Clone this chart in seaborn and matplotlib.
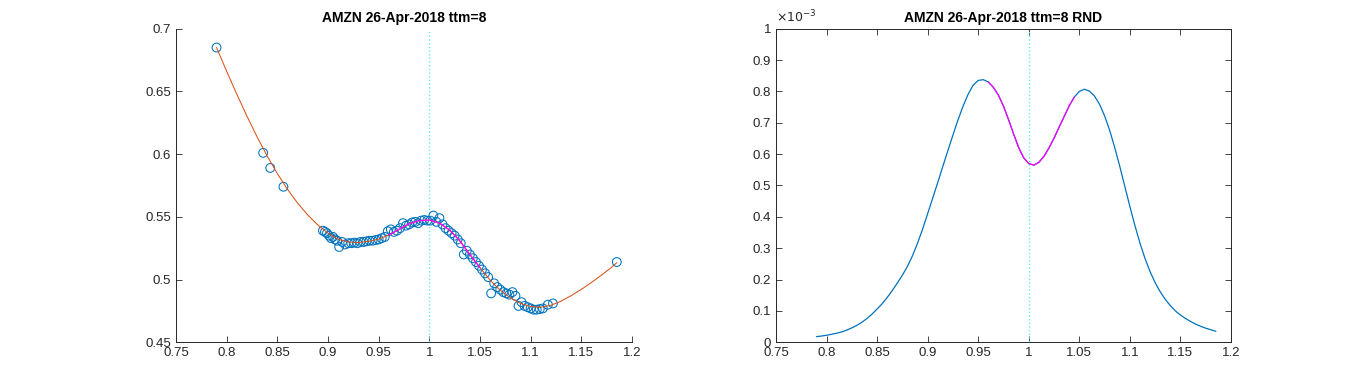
import matplotlib
matplotlib.use("Agg")
import matplotlib.pyplot as plt
from matplotlib.ticker import FuncFormatter
import seaborn as sns
import numpy as np

# implied vol smile: observed points (moneyness, iv)
iv_x = [0.790, 0.836, 0.843, 0.856,
        0.895, 0.897, 0.899, 0.901, 0.903, 0.905, 0.907, 0.909, 0.911, 0.914,
        0.917, 0.920, 0.923, 0.926, 0.929, 0.932, 0.935, 0.938, 0.941, 0.944,
        0.947, 0.950, 0.953, 0.956, 0.959, 0.962, 0.965, 0.968, 0.971, 0.974,
        0.977, 0.980, 0.983, 0.986, 0.989, 0.992, 0.995, 0.998, 1.001, 1.004,
        1.007, 1.010, 1.013, 1.016, 1.019, 1.022, 1.025, 1.028, 1.031, 1.034,
        1.037, 1.040, 1.043, 1.046, 1.049, 1.052, 1.055, 1.058, 1.061, 1.064,
        1.067, 1.070, 1.073, 1.076, 1.079, 1.082, 1.085, 1.088, 1.091, 1.094,
        1.097, 1.100, 1.103, 1.106, 1.109, 1.112, 1.117, 1.122,
        1.185]
iv_y = [0.685, 0.601, 0.589, 0.574,
        0.539, 0.538, 0.537, 0.535, 0.533, 0.534, 0.532, 0.531, 0.526, 0.530,
        0.528, 0.529, 0.529, 0.5295, 0.529, 0.530, 0.530, 0.5305, 0.531, 0.531,
        0.5315, 0.532, 0.533, 0.534, 0.5385, 0.540, 0.538, 0.539, 0.541, 0.545,
        0.543, 0.544, 0.5455, 0.546, 0.545, 0.547, 0.5475, 0.547, 0.547, 0.551,
        0.546, 0.549, 0.544, 0.541, 0.539, 0.537, 0.535, 0.532, 0.529, 0.520,
        0.523, 0.520, 0.517, 0.514, 0.511, 0.508, 0.505, 0.502, 0.489, 0.497,
        0.494, 0.492, 0.490, 0.489, 0.488, 0.490, 0.487, 0.479, 0.482, 0.479,
        0.478, 0.477, 0.476, 0.476, 0.4765, 0.477, 0.480, 0.481,
        0.514]

# fitted smile
fit_x = [0.790, 0.800, 0.810, 0.820, 0.830, 0.840, 0.850, 0.860, 0.870, 0.880,
         0.890, 0.900, 0.910, 0.920, 0.930, 0.940, 0.950, 0.960, 0.970, 0.980,
         0.990, 1.000, 1.010, 1.020, 1.030, 1.040, 1.050, 1.060, 1.070, 1.080,
         1.090, 1.100, 1.110, 1.120, 1.130, 1.140, 1.150, 1.160, 1.170, 1.180, 1.185]
fit_y = [0.6850, 0.6660, 0.6478, 0.6303, 0.6138, 0.5985, 0.5845, 0.5720, 0.5610, 0.5515,
         0.5435, 0.5370, 0.5322, 0.5300, 0.5295, 0.5305, 0.5322, 0.5355, 0.5400, 0.5445,
         0.5470, 0.5475, 0.5450, 0.5395, 0.5310, 0.5200, 0.5095, 0.4995, 0.4915, 0.4855,
         0.4810, 0.4785, 0.4780, 0.4795, 0.4828, 0.4872, 0.4922, 0.4977, 0.5036, 0.5099, 0.5135]

# risk neutral density (x1e-3)
rnd_x = [0.790, 0.795, 0.800, 0.805, 0.810, 0.815, 0.820, 0.825, 0.830, 0.835,
         0.840, 0.845, 0.850, 0.855, 0.860, 0.865, 0.870, 0.875, 0.880, 0.885,
         0.890, 0.895, 0.900, 0.905, 0.910, 0.915, 0.920, 0.925, 0.930, 0.935,
         0.940, 0.945, 0.950, 0.955, 0.960, 0.965, 0.970, 0.975, 0.980, 0.985,
         0.990, 0.995, 1.000, 1.005, 1.010, 1.015, 1.020, 1.025, 1.030, 1.035,
         1.040, 1.045, 1.050, 1.055, 1.060, 1.065, 1.070, 1.075, 1.080, 1.085,
         1.090, 1.095, 1.100, 1.105, 1.110, 1.115, 1.120, 1.125, 1.130, 1.135,
         1.140, 1.145, 1.150, 1.155, 1.160, 1.165, 1.170, 1.175, 1.180, 1.185]
rnd_e3 = [0.018, 0.020, 0.0225, 0.0255, 0.029, 0.033, 0.039, 0.046, 0.054, 0.064,
          0.076, 0.090, 0.106, 0.123, 0.143, 0.165, 0.189, 0.214, 0.242, 0.276,
          0.316, 0.361, 0.410, 0.460, 0.510, 0.561, 0.611, 0.661, 0.709, 0.753,
          0.791, 0.820, 0.835, 0.8375, 0.830, 0.813, 0.788, 0.753, 0.710, 0.664,
          0.621, 0.588, 0.570, 0.565, 0.574, 0.593, 0.620, 0.651, 0.686, 0.720,
          0.754, 0.782, 0.800, 0.807, 0.801, 0.785, 0.759, 0.722, 0.676, 0.621,
          0.561, 0.497, 0.433, 0.372, 0.316, 0.267, 0.225, 0.190, 0.161, 0.137,
          0.117, 0.100, 0.087, 0.076, 0.0665, 0.058, 0.051, 0.045, 0.040, 0.035]

left_title = "AMZN 26-Apr-2018 ttm=8"
right_title = "AMZN 26-Apr-2018 ttm=8 RND"

blue = "#0072BD"
orange = "#D95319"
magenta = "#FF00FF"
cyan = "#66E6F2"
axcol = "#262626"

sns.set_style("white")
plt.rcParams['font.family'] = ['Liberation Sans', 'DejaVu Sans']
plt.rcParams['font.size'] = 9.5

fig = plt.figure(figsize=(13.6, 3.84), dpi=100)
ax1 = fig.add_axes([176 / 1360, 41.7 / 384, 456 / 1360, 313.6 / 384])
ax2 = fig.add_axes([776 / 1360, 41.7 / 384, 455 / 1360, 313.6 / 384])

fx = np.array(fit_x)
fy = np.array(fit_y)
m1 = (fx >= 0.955) & (fx <= 1.05)

# left: smile
ax1.axvline(1.0, color=cyan, ls=":", lw=1.0, zorder=1)
sns.scatterplot(x=iv_x, y=iv_y, ax=ax1, marker="o", s=40, facecolors="none",
                edgecolor=blue, linewidth=0.75, zorder=2)
sns.lineplot(x=fit_x, y=fit_y, ax=ax1, color=orange, lw=0.75, estimator=None, zorder=3)
sns.lineplot(x=fx[m1], y=fy[m1], ax=ax1, color=magenta, lw=0.9, estimator=None, zorder=4)
ax1.set_xlim(0.75, 1.2)
ax1.set_ylim(0.45, 0.7)
ax1.set_xticks(np.arange(0.75, 1.2001, 0.05))
ax1.set_yticks(np.arange(0.45, 0.7001, 0.05))
for s in ["top", "right"]:
    ax1.spines[s].set_visible(False)
ax1.tick_params(direction="in", length=4, width=0.6, colors=axcol, labelsize=9.5,
                bottom=True, left=True, top=False, right=False)
ax1.set_title(left_title, fontsize=10, fontweight="bold", color="black", pad=5)

# right: density
rx = np.array(rnd_x)
ry = np.array(rnd_e3)
m2 = (rx >= 0.96) & (rx <= 1.045)
ax2.axvline(1.0, color=cyan, ls=":", lw=1.0, zorder=1)
sns.lineplot(x=rnd_x, y=rnd_e3, ax=ax2, color=blue, lw=0.9, estimator=None, zorder=2)
sns.lineplot(x=rx[m2], y=ry[m2], ax=ax2, color=magenta, lw=0.9, estimator=None, zorder=3)
ax2.set_xlim(0.75, 1.2)
ax2.set_ylim(0, 1)
ax2.set_xticks(np.arange(0.75, 1.2001, 0.05))
ax2.set_yticks(np.arange(0, 1.0001, 0.1))
ax2.tick_params(direction="in", length=4, width=0.6, colors=axcol, labelsize=9.5,
                bottom=True, left=True, top=True, right=True)
ax2.text(0.0, 1.012, r"$\times10^{-3}$", transform=ax2.transAxes, fontsize=9,
         color=axcol, ha="left", va="bottom")
ax2.set_title(right_title, fontsize=10, fontweight="bold", color="black", pad=5)

fmt = FuncFormatter(lambda v, p: "%g" % round(v, 4))
for ax in (ax1, ax2):
    ax.xaxis.set_major_formatter(fmt)
    ax.yaxis.set_major_formatter(fmt)
    ax.set_xlabel("")
    ax.set_ylabel("")
    for sp in ax.spines.values():
        sp.set_color(axcol)
        sp.set_linewidth(0.7)
    if ax.get_legend():
        ax.get_legend().remove()

fig.savefig("out.png", dpi=100)
